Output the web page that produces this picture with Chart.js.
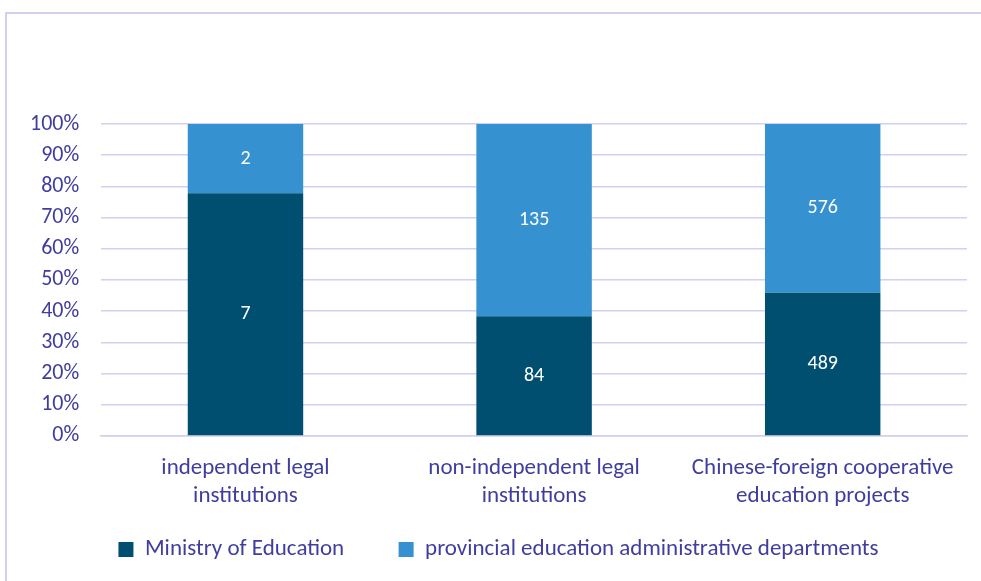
<!DOCTYPE html>
<html>
<head>
<meta charset="utf-8">
<script src="https://cdn.jsdelivr.net/npm/chart.js@4"></script>
<style>
  html, body { margin: 0; padding: 0; background: #fff; overflow: hidden; }
  #frame { position: absolute; left: 5px; top: 12px; width: 1000px; height: 600px; border: 2px solid #d2cff0; }
  #wrap { position: absolute; left: 0; top: 0; width: 981px; height: 581px; }
</style>
</head>
<body>
<div id="frame"></div>
<div id="wrap"><canvas id="chart"></canvas></div>
<script>
const categories = [
  ['independent legal', 'institutions'],
  ['non-independent legal', 'institutions'],
  ['Chinese-foreign cooperative', 'education projects']
];
const ministryCounts = [7, 84, 489];
const provincialCounts = [2, 135, 576];
const seriesNames = ['Ministry of Education', 'provincial education administrative departments'];

const textColor = '#3f3d9e';
const fontFamily = "Carlito, Calibri, Lato, sans-serif";

// turn counts into shares of each column
const totals = ministryCounts.map((v, i) => v + provincialCounts[i]);
const ministryShare = ministryCounts.map((v, i) => v / totals[i] * 100);
const provincialShare = provincialCounts.map((v, i) => v / totals[i] * 100);

// white count labels in the middle of each segment
const countLabels = {
  id: 'countLabels',
  afterDatasetsDraw(chart) {
    const ctx = chart.ctx;
    ctx.save();
    ctx.fillStyle = '#ffffff';
    ctx.font = '20px ' + fontFamily;
    ctx.textAlign = 'center';
    ctx.textBaseline = 'middle';
    chart.data.datasets.forEach((ds, di) => {
      chart.getDatasetMeta(di).data.forEach((bar, i) => {
        const mid = (bar.y + bar.base) / 2;
        ctx.fillText(String(ds.counts[i]), bar.x, mid);
      });
    });
    ctx.restore();
  }
};

// the legend sits a little right of centre in the original
const legendShift = {
  id: 'legendShift',
  afterLayout(chart) {
    chart.legend.left += 11;
    chart.legend.right += 11;
  }
};

const ctx = document.getElementById('chart').getContext('2d');
const chart = new Chart(ctx, {
  type: 'bar',
  data: {
    labels: categories,
    datasets: [{
      label: seriesNames[0],
      data: ministryShare,
      counts: ministryCounts,
      backgroundColor: '#004f71',
      categoryPercentage: 1,
      barPercentage: 0.4
    }, {
      label: seriesNames[1],
      data: provincialShare,
      counts: provincialCounts,
      backgroundColor: '#3591cf',
      categoryPercentage: 1,
      barPercentage: 0.4
    }]
  },
  options: {
    responsive: true,
    maintainAspectRatio: false,
    animation: false,
    layout: { padding: { left: 8, right: 14, top: 124, bottom: 10 } },
    scales: {
      x: {
        stacked: true,
        grid: { display: false },
        border: { display: true, color: '#d2cff0', width: 1.5 },
        ticks: {
          color: textColor,
          font: { family: fontFamily, size: 23, lineHeight: 1.22 },
          padding: 10,
          maxRotation: 0
        }
      },
      y: {
        stacked: true,
        min: 0,
        max: 100,
        grid: { color: '#d2cff0', lineWidth: 1.5, drawTicks: false },
        border: { display: false },
        ticks: {
          stepSize: 10,
          color: textColor,
          padding: 22,
          font: { family: fontFamily, size: 22 },
          callback: v => v + '%'
        }
      }
    },
    plugins: {
      legend: {
        position: 'bottom',
        labels: {
          color: textColor,
          font: { family: fontFamily, size: 23 },
          boxWidth: 15,
          boxHeight: 15,
          padding: 18,
          generateLabels(chart) {
            const items = Chart.defaults.plugins.legend.labels.generateLabels(chart);
            items[0].text += '       ';
            return items;
          }
        }
      },
      tooltip: { enabled: false }
    }
  },
  plugins: [countLabels, legendShift]
});
</script>
</body>
</html>
